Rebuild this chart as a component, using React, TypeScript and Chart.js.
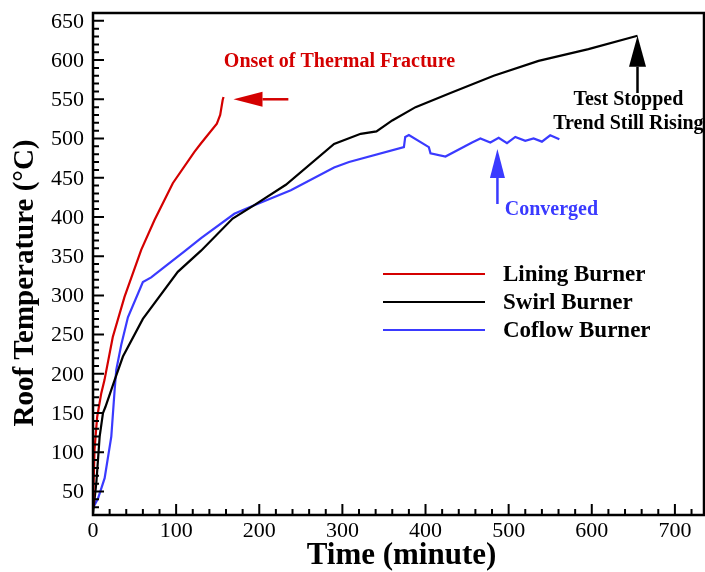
import React, { useEffect, useRef } from "react";
import { Chart, registerables } from "chart.js";
Chart.register(...registerables);

// ---- Data ----
const seriesNames = ["Lining Burner", "Swirl Burner", "Coflow Burner"];
const seriesColors = ["#d40000", "#000000", "#3a3aff"];

const liningTime = [0, 1.8, 5, 9.9, 13.8, 23.8, 37.9, 58, 74, 96, 122, 130, 149, 153, 156, 157];
const liningTemp = [28, 103, 145, 175, 192, 247, 298, 358, 396, 443, 483, 494, 519, 530, 549, 553];

const swirlTime = [0, 4, 8, 12, 15, 26, 36, 60, 102, 130, 168, 194, 232, 290, 322, 341, 360, 388, 430, 482, 536, 596, 655];
const swirlTemp = [22, 61, 120, 150, 158, 192, 222, 270, 330, 357, 398, 415, 441, 493, 506, 509, 523, 540, 558, 580, 599, 614, 631];

const coflowTime = [0, 6, 14, 22, 26, 28, 34, 42, 60, 70, 88, 110, 130, 170, 194, 238, 290, 308, 374, 375.6, 380, 404, 406, 424, 456, 466, 478, 488, 498, 508, 520, 530, 540, 550, 561];
const coflowTemp = [29, 41, 67, 120, 179, 205, 237, 272, 317, 323, 338, 356, 373, 404, 415, 434, 463, 470, 489, 502, 504.5, 489, 481, 477, 495, 500, 495, 501, 494, 502, 497, 500, 496, 504, 499];

const xTickValues = [0, 100, 200, 300, 400, 500, 600, 700];
const yTickValues = [50, 100, 150, 200, 250, 300, 350, 400, 450, 500, 550, 600, 650];
const xTitle = "Time (minute)";
const yTitle = "Roof Temperature (°C)";

// annotation anchors (data units)
const redNote = { text: "Onset of Thermal Fracture", x: 296.5, y: 597.6, arrowTip: [169, 550], arrowTail: [235, 550] };
const blackNote = { lines: ["Test Stopped", "Trend Still Rising"], x: 644, ys: [549, 518.5], arrowTip: [655, 631], arrowTail: [655, 558] };
const blueNote = { text: "Converged", x: 551.5, y: 409, arrowTip: [486.5, 486.6], arrowTail: [486.5, 416.5] };

const serif = "'Liberation Serif', 'Times New Roman', serif";

function arrow(ctx: CanvasRenderingContext2D, x1: number, y1: number, x2: number, y2: number, color: string, headLen: number, headHalf: number) {
  const ang = Math.atan2(y2 - y1, x2 - x1);
  const bx = x2 - Math.cos(ang) * headLen;
  const by = y2 - Math.sin(ang) * headLen;
  ctx.save();
  ctx.strokeStyle = color;
  ctx.fillStyle = color;
  ctx.lineWidth = 2.5;
  ctx.beginPath();
  ctx.moveTo(x1, y1);
  ctx.lineTo(bx, by);
  ctx.stroke();
  ctx.beginPath();
  ctx.moveTo(x2, y2);
  ctx.lineTo(bx + Math.sin(ang) * headHalf, by - Math.cos(ang) * headHalf);
  ctx.lineTo(bx - Math.sin(ang) * headHalf, by + Math.cos(ang) * headHalf);
  ctx.closePath();
  ctx.fill();
  ctx.restore();
}

const decor = {
  id: "decor",
  afterDraw(chart: any) {
    const ctx: CanvasRenderingContext2D = chart.ctx;
    const { left, right, top, bottom } = chart.chartArea;
    const xs = chart.scales.x;
    const ys = chart.scales.y;
    ctx.save();
    // frame
    ctx.strokeStyle = "#000";
    ctx.lineWidth = 2.5;
    ctx.strokeRect(left, top, right - left, bottom - top);
    // ticks
    ctx.lineWidth = 2;
    ctx.beginPath();
    for (let v = 0; v <= 730; v += 20) {
      const px = xs.getPixelForValue(v);
      const len = v % 100 === 0 ? 11 : 6;
      ctx.moveTo(px, bottom);
      ctx.lineTo(px, bottom - len);
    }
    for (let v = 30; v <= 650; v += 10) {
      const py = ys.getPixelForValue(v);
      const len = v % 50 === 0 ? 11 : 6;
      ctx.moveTo(left, py);
      ctx.lineTo(left + len, py);
    }
    ctx.stroke();
    // tick labels
    ctx.fillStyle = "#000";
    ctx.font = `22px ${serif}`;
    ctx.textAlign = "center";
    ctx.textBaseline = "top";
    xTickValues.forEach((v) => ctx.fillText(String(v), xs.getPixelForValue(v), bottom + 5));
    ctx.textAlign = "right";
    ctx.textBaseline = "middle";
    yTickValues.forEach((v) => ctx.fillText(String(v), left - 9, ys.getPixelForValue(v) + 1));
    // axis titles
    ctx.font = `bold 31px ${serif}`;
    ctx.textAlign = "center";
    ctx.textBaseline = "alphabetic";
    ctx.fillText(xTitle, (left + right) / 2 + 3, 564);
    ctx.font = `bold 29px ${serif}`;
    ctx.save();
    ctx.translate(33, 283);
    ctx.rotate(-Math.PI / 2);
    ctx.fillText(yTitle, 0, 0);
    ctx.restore();
    // legend
    ctx.font = `bold 23px ${serif}`;
    ctx.textAlign = "left";
    ctx.textBaseline = "middle";
    seriesNames.forEach((name, i) => {
      const y = 274 + i * 28;
      ctx.strokeStyle = seriesColors[i];
      ctx.lineWidth = 2;
      ctx.beginPath();
      ctx.moveTo(383, y);
      ctx.lineTo(485, y);
      ctx.stroke();
      ctx.fillStyle = "#000";
      ctx.fillText(name, 503, y + 1);
    });
    // annotations
    const P = (a: number[]) => [xs.getPixelForValue(a[0]), ys.getPixelForValue(a[1])];
    // red
    ctx.fillStyle = seriesColors[0];
    ctx.font = `bold 20px ${serif}`;
    ctx.textAlign = "center";
    ctx.textBaseline = "middle";
    ctx.fillText(redNote.text, xs.getPixelForValue(redNote.x), ys.getPixelForValue(redNote.y));
    let t = P(redNote.arrowTail), h = P(redNote.arrowTip);
    arrow(ctx, t[0], t[1], h[0], h[1], seriesColors[0], 29, 7.5);
    // black
    ctx.fillStyle = "#000";
    blackNote.lines.forEach((ln, i) => ctx.fillText(ln, xs.getPixelForValue(blackNote.x), ys.getPixelForValue(blackNote.ys[i])));
    t = P(blackNote.arrowTail); h = P(blackNote.arrowTip);
    arrow(ctx, t[0], t[1], h[0], h[1], "#000", 31, 8.5);
    // blue
    ctx.fillStyle = seriesColors[2];
    ctx.fillText(blueNote.text, xs.getPixelForValue(blueNote.x), ys.getPixelForValue(blueNote.y));
    t = P(blueNote.arrowTail); h = P(blueNote.arrowTip);
    arrow(ctx, t[0], t[1], h[0], h[1], seriesColors[2], 29, 7.5);
    ctx.restore();
  },
};

export default function App() {
  const ref = useRef<HTMLCanvasElement>(null);
  useEffect(() => {
    const toXY = (xv: number[], yv: number[]) => xv.map((x, i) => ({ x, y: yv[i] }));
    const chart = new Chart(ref.current as HTMLCanvasElement, {
      type: "line",
      data: {
        datasets: [
          { label: seriesNames[0], data: toXY(liningTime, liningTemp), borderColor: seriesColors[0], borderWidth: 2.2, pointRadius: 0, tension: 0 },
          { label: seriesNames[1], data: toXY(swirlTime, swirlTemp), borderColor: seriesColors[1], borderWidth: 2.2, pointRadius: 0, tension: 0 },
          { label: seriesNames[2], data: toXY(coflowTime, coflowTemp), borderColor: seriesColors[2], borderWidth: 2.2, pointRadius: 0, tension: 0 },
        ],
      },
      options: {
        animation: false,
        responsive: false,
        maintainAspectRatio: false,
        layout: { padding: { top: 13, right: 1, left: 0, bottom: 0 } },
        plugins: { legend: { display: false }, tooltip: { enabled: false } },
        scales: {
          x: {
            type: "linear", min: 0, max: 735,
            afterFit: (s: any) => { s.height = 57; },
            ticks: { display: false }, grid: { display: false }, border: { display: false },
          },
          y: {
            type: "linear", min: 20, max: 660,
            afterFit: (s: any) => { s.width = 93; },
            ticks: { display: false }, grid: { display: false }, border: { display: false },
          },
        },
      },
      plugins: [decor],
    } as any);
    return () => chart.destroy();
  }, []);
  return (
    <div style={{ position: "fixed", left: 0, top: 0, width: 705, height: 572, background: "#fff" }}>
      <canvas ref={ref} width={705} height={572} />
    </div>
  );
}
